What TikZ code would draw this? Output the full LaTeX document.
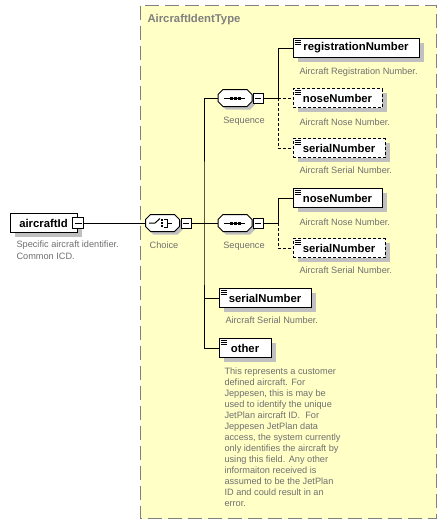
\documentclass[tikz,border=0pt]{standalone}
\usepackage{fontspec}
\setmainfont{Liberation Sans}
\usetikzlibrary{shadows}
\definecolor{bgyellow}{RGB}{255,255,198}
\definecolor{framegray}{RGB}{128,128,128}
\definecolor{descgray}{RGB}{112,112,112}
\definecolor{shadowgray}{RGB}{192,192,192}
\tikzset{
  elem/.style={draw=black, line width=0.75pt, fill=white, inner sep=0pt,
    minimum height=14.25pt, font=\fontsize{8.5}{10}\selectfont\bfseries,
    drop shadow={shadow xshift=3.5pt, shadow yshift=-3.5pt, fill=shadowgray, opacity=1}},
  optelem/.style={elem, dash pattern=on 2.25pt off 1.5pt},
  dashline/.style={dash pattern=on 2.25pt off 1.5pt},
  minusbox/.style={draw=black, fill=white, line width=0.75pt, minimum size=7.5pt, inner sep=0pt,
    path picture={\draw[line width=0.75pt] ([xshift=1.5pt]path picture bounding box.west) -- ([xshift=-1.5pt]path picture bounding box.east);}},
  octnode/.style={draw=none, minimum width=25.5pt, minimum height=12.75pt, inner sep=0pt},
  desc/.style={font=\fontsize{6.9}{8.25}\selectfont, text=descgray, inner sep=0pt, align=left},
  lbl/.style={font=\fontsize{6.9}{8.25}\selectfont, text=descgray, inner sep=0pt},
  ttl/.style={font=\fontsize{8.5}{10}\selectfont\bfseries, text=framegray, inner sep=0pt},
}
\newcommand{\octpath}{(-12,-8.5) -- (12,-8.5) -- (17,-3.5) -- (17,3.5) -- (12,8.5) -- (-12,8.5) -- (-17,3.5) -- (-17,-3.5) -- cycle}
\newcommand{\elemicon}[1]{\draw[line width=0.75pt] ([shift={(2,2)}]#1.north west) -- ++(6,0) ([shift={(2,4)}]#1.north west) -- ++(6,0) ([shift={(2,6)}]#1.north west) -- ++(6,0);}
\begin{document}
\begin{tikzpicture}[x=0.75pt,y=-0.75pt,line width=0.75pt]
\useasboundingbox (0,0) rectangle (447,525);
\fill[white] (0,0) rectangle (447,525);
\draw[draw=framegray, fill=bgyellow, line width=1.1pt, dash pattern=on 10.5pt off 4.5pt] (140.5,5.5) rectangle (436.5,518.5);
\node[ttl, anchor=base west] (title) at (147,22.5) {AircraftIdentType};

% root element
\node[elem, minimum width=50.25pt] (aid) at (43.5,223) {aircraftId};
\node[minusbox, minimum size=8.25pt] (aidm) at (78,223) {};
\node[desc, anchor=north west] (aiddesc) at (16,240.8) {Specific aircraft identifier.\\[0.6pt]Common ICD.};

% choice
\node[octnode] (ch) at (162.5,223) {};
\begin{scope}[shift={(ch.center)}]
  \fill[shadowgray, shift={(3,3)}] \octpath;
  \draw[fill=white] \octpath;
  \draw (-13.5,0) -- (-7.5,0) -- (-2.5,-4.5);
  \fill (-1.8,-4.3) rectangle (0.6,-2.2);
  \fill (-1.8,-1.2) rectangle (0.6,1.2);
  \fill (-1.8,2.2) rectangle (0.6,4.3);
  \draw (1.5,-4) -- (5,-4) -- (5,4) -- (1.5,4) (5,0) -- (9,0);
\end{scope}
\node[minusbox] (chm) at (186,223) {};
\node[lbl, anchor=base] (chlbl) at (164,248.5) {Choice};

% sequence 1
\node[octnode] (sqa) at (235,98) {};
\begin{scope}[shift={(sqa.center)}]
  \fill[shadowgray, shift={(3,3)}] \octpath;
  \draw[fill=white] \octpath;
  \draw (-11,0) -- (10,0);
  \fill (-5.5,-1.5) rectangle (-2.5,1.5);
  \fill (-1.5,-1.5) rectangle (1.5,1.5);
  \fill (2.5,-1.5) rectangle (5.5,1.5);
\end{scope}
\node[minusbox] (sqam) at (258,98) {};
\node[lbl, anchor=base] (sqalbl) at (244,123) {Sequence};

% sequence 2
\node[octnode] (sqb) at (235,223) {};
\begin{scope}[shift={(sqb.center)}]
  \fill[shadowgray, shift={(3,3)}] \octpath;
  \draw[fill=white] \octpath;
  \draw (-11,0) -- (10,0);
  \fill (-5.5,-1.5) rectangle (-2.5,1.5);
  \fill (-1.5,-1.5) rectangle (1.5,1.5);
  \fill (2.5,-1.5) rectangle (5.5,1.5);
\end{scope}
\node[minusbox] (sqbm) at (258,223) {};
\node[lbl, anchor=base] (sqblbl) at (244,248.5) {Sequence};

% elements of sequence 1
\node[elem, minimum width=94.5pt] (reg) at (356,48) {registrationNumber};
\elemicon{reg}
\node[desc, anchor=base west] (regdesc) at (299,74.5) {Aircraft Registration Number.};
\node[optelem, minimum width=66.75pt] (n1) at (337.5,98) {noseNumber};
\elemicon{n1}
\node[desc, anchor=base west] (n1desc) at (299,125) {Aircraft Nose Number.};
\node[optelem, minimum width=69pt] (s1) at (339,148) {serialNumber};
\elemicon{s1}
\node[desc, anchor=base west] (s1desc) at (299,173.5) {Aircraft Serial Number.};

% elements of sequence 2
\node[elem, minimum width=66.75pt] (n2) at (337.5,198) {noseNumber};
\elemicon{n2}
\node[desc, anchor=base west] (n2desc) at (299,225) {Aircraft Nose Number.};
\node[optelem, minimum width=69pt] (s2) at (339,248) {serialNumber};
\elemicon{s2}
\node[desc, anchor=base west] (s2desc) at (299,273.5) {Aircraft Serial Number.};

% other choice elements
\node[elem, minimum width=69pt] (s3) at (265,298) {serialNumber};
\elemicon{s3}
\node[desc, anchor=base west] (s3desc) at (225,323.5) {Aircraft Serial Number.};
\node[elem, minimum width=39pt] (oth) at (245,348) {other};
\elemicon{oth}
\node[desc, anchor=north west] (othdesc) at (224,367.5) {This represents a customer\\defined aircraft. For\\Jeppesen, this is may be\\used to identify the unique\\JetPlan aircraft ID.\ \ For\\Jeppesen JetPlan data\\access, the system currently\\only identifies the aircraft by\\using this field. Any other\\informaiton received is\\assumed to be the JetPlan\\ID and could result in an\\error.};

% connectors
\coordinate (t1) at (204,223);
\coordinate (t2) at (278,98);
\coordinate (t3) at (278,223);
\draw (aidm.east) -- (ch.west);
\draw (chm.east) -- (sqb.west);
\draw (sqa.west) -| (t1) |- (oth.west);
\draw (t1 |- s3.west) -- (s3.west);
\draw (reg.west) -| (t2) -- (sqam.east);
\draw[dashline] (t2) -- (n1.west);
\draw[dashline] (t2) |- (s1.west);
\draw (n2.west) -| (t3) -- (sqbm.east);
\draw[dashline] (t3) |- (s2.west);
\end{tikzpicture}
\end{document}
